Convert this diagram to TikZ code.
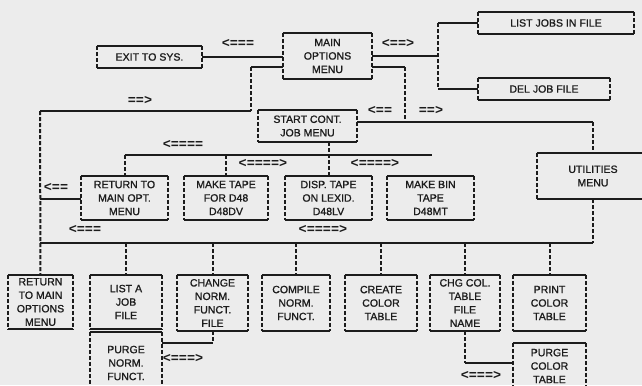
\documentclass[tikz,border=0pt]{standalone}
\usepackage{fontspec}
\setmainfont{Liberation Sans}
\newfontfamily\boxfont[BoldFont={Liberation Sans},BoldFeatures={FakeBold=1.2}]{Liberation Sans}
\newfontfamily\tagfont{Liberation Mono}
\usetikzlibrary{positioning}
\definecolor{ink}{HTML}{1C1C1C}
\definecolor{paper}{HTML}{ECECEC}

\begin{document}
\begin{tikzpicture}[
  x=0.3mm,y=-0.3mm,
  font=\boxfont\bfseries\fontsize{9}{11.5}\selectfont,
  box/.style={align=center,inner sep=1pt,text=ink},
  sz/.style 2 args={minimum width=#1*0.3mm,minimum height=#2*0.3mm},
  hline/.style={draw=ink,line width=0.6mm},
  vline/.style={draw=ink,line width=0.6mm,dash pattern=on 1.2mm off 0.6mm},
  tag/.style={font=\tagfont\bfseries\fontsize{11.5}{11.5}\selectfont,text=ink,inner sep=0pt}]
\useasboundingbox (0,0) rectangle (642,385);
\clip (0,0) rectangle (642,385);
\fill[paper] (0,0) rectangle (642,385);

% top level
\node[box,sz={89}{46}] (main) at (327.5,56) {MAIN\\OPTIONS\\MENU};
\node[box,sz={105}{22}] (exit) at (149.5,57) {EXIT TO SYS.};
\node[box,sz={156}{22}] (listjobs) at (556,23) {LIST JOBS IN FILE};
\node[box,sz={132}{22}] (deljob) at (544,89) {DEL JOB FILE};
\node[box,sz={99}{32}] (start) at (307.5,126) {START CONT.\\JOB MENU};

% second row
\node[box,sz={87}{44}] (retmain) at (124.5,198) {RETURN TO\\MAIN OPT.\\MENU};
\node[box,sz={84}{44}] (maketape) at (226,198) {MAKE TAPE\\FOR D48\\D48DV};
\node[box,sz={87}{44}] (disp) at (328.5,198) {DISP. TAPE\\ON LEXID.\\D48LV};
\node[box,sz={87}{44}] (makebin) at (430.5,198) {MAKE BIN\\TAPE\\D48MT};
\node[box,sz={112}{46}] (util) at (593,176) {UTILITIES\\MENU};

% utilities row
\node[box,sz={65}{54}] (ret2) at (40.5,302) {RETURN\\TO MAIN\\OPTIONS\\MENU};
\node[box,sz={72}{54}] (listjob) at (126,302) {LIST A\\JOB\\FILE};
\node[box,sz={71}{56}] (change) at (212.5,303) {CHANGE\\NORM.\\FUNCT.\\FILE};
\node[box,sz={68}{56}] (compile) at (296,303) {COMPILE\\NORM.\\FUNCT.};
\node[box,sz={72}{56}] (create) at (381,303) {CREATE\\COLOR\\TABLE};
\node[box,sz={70}{56}] (chgcol) at (465,303) {CHG COL.\\TABLE\\FILE\\NAME};
\node[box,sz={73}{56}] (print) at (549.5,303) {PRINT\\COLOR\\TABLE};
\node[box,sz={72}{62}] (purgenorm) at (126,363) {PURGE\\NORM.\\FUNCT.};
\node[box,sz={73}{46}] (purgecol) at (549.5,366) {PURGE\\COLOR\\TABLE};

% box outlines: solid across, broken down the sides
\foreach \n in {main,exit,listjobs,deljob,start,retmain,maketape,disp,makebin,util,
                ret2,listjob,change,compile,create,chgcol,print,purgenorm,purgecol}{
  \draw[hline] (\n.north west) -- (\n.north east) (\n.south west) -- (\n.south east);
  \draw[vline] (\n.north west) -- (\n.south west) (\n.north east) -- (\n.south east);
}

% main menu links
\draw[hline] (exit.east) -- (exit.east -| main.west);
\node[tag] (tExit) at (238,43) {<===};
\coordinate (mlA) at (251,67);
\coordinate (mlB) at (251,111);
\coordinate (lbus) at (40,111);
\draw[hline] (mlA -| main.west) -- (mlA);
\draw[vline] (mlA) -- (mlB);
\draw[hline] (mlB) -- (lbus);
\draw[vline] (lbus) -- (ret2.north);
\node[tag] (tDown) at (140,100) {==>};

\coordinate (rj) at (438,56);
\draw[hline] (main.east) -- (rj);
\draw[vline] (rj |- listjobs.west) -- (rj |- deljob.west);
\draw[hline] (rj |- listjobs.west) -- (listjobs.west);
\draw[hline] (rj |- deljob.west) -- (deljob.west);
\node[tag] (tFile) at (398,43) {<==>};

\coordinate (mrA) at (405,67);
\coordinate (sbus) at (405,122);
\draw[hline] (mrA -| main.east) -- (mrA);
\draw[vline] (mrA) -- (sbus);
\node[tag] (tStartL) at (380,110) {<==};
\node[tag] (tStartR) at (431,110) {==>};

% start cont. job menu
\coordinate (sr) at (593,122);
\draw[hline] (sr -| start.east) -- (sr);
\draw[vline] (sr) -- (util.north);
\draw[vline] (disp.north |- start.south) -- (disp.north);
\coordinate (tbusL) at (124.5,155);
\coordinate (tbusR) at (432,155);
\draw[hline] (tbusL) -- (tbusR);
\draw[vline] (tbusL) -- (retmain.north);
\draw[vline] (maketape.north |- tbusL) -- (maketape.north);
\node[tag] (tRow1) at (183,144) {<====};
\node[tag] (tRow2) at (263,163) {<====>};
\node[tag] (tRow3) at (375,163) {<====>};
\coordinate (lmid) at (40,199);
\draw[hline] (lmid) -- (lmid -| retmain.west);
\node[tag] (tBack) at (56,187) {<==};

% utilities menu
\coordinate (bbusL) at (40,243);
\coordinate (bbusR) at (593,243);
\draw[vline] (util.south) -- (bbusR);
\draw[hline] (bbusL) -- (bbusR);
\foreach \n in {listjob,change,compile,create,chgcol,print}
  \draw[vline] (\n.north |- bbusL) -- (\n.north);
\node[tag] (tBus1) at (85,229) {<===};
\node[tag] (tBus2) at (323,229) {<====>};

\coordinate (pn) at (212.5,343);
\draw[vline] (change.south) -- (pn);
\draw[hline] (pn) -- (pn -| purgenorm.east);
\node[tag] (tPurge1) at (183,358) {<===>};
\coordinate (pc) at (465,363);
\draw[vline] (chgcol.south) -- (pc);
\draw[hline] (pc) -- (pc -| purgecol.west);
\node[tag] (tPurge2) at (481,375) {<===>};
\end{tikzpicture}
\end{document}
